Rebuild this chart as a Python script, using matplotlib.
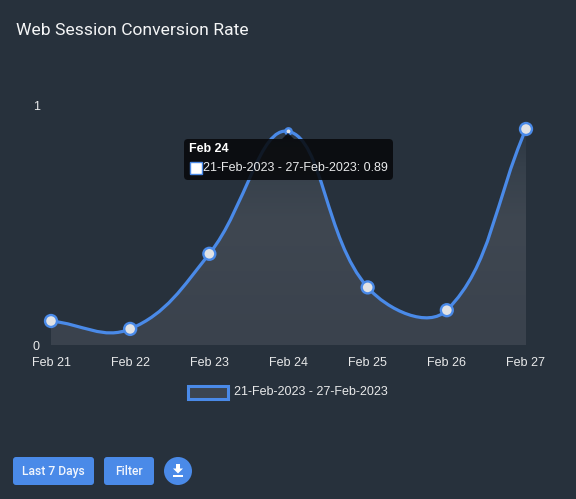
import numpy as np
import matplotlib
matplotlib.use('Agg')
import matplotlib.pyplot as plt
from matplotlib.colors import LinearSegmentedColormap
from matplotlib.path import Path
from matplotlib.patches import PathPatch, FancyBboxPatch, Rectangle, Circle, Polygon

days = ['Feb 21', 'Feb 22', 'Feb 23', 'Feb 24', 'Feb 25', 'Feb 26', 'Feb 27']
rate = [0.10, 0.067, 0.38, 0.89, 0.24, 0.145, 0.90]
series_name = '21-Feb-2023 - 27-Feb-2023'

BG = '#27313c'
BLUE = '#4a8ae8'
W, H = 576, 499

def spline_path(xs, ys, px, py, t=0.4):
    # same cubic as a chart.js line with tension, distances taken in pixels
    n = len(xs)
    verts = [(xs[0], ys[0])]
    codes = [Path.MOVETO]
    c1 = [None] * n
    c2 = [None] * n
    for i in range(n):
        a = max(i - 1, 0)
        b = min(i + 1, n - 1)
        d01 = np.hypot((xs[i] - xs[a]) * px, (ys[i] - ys[a]) * py)
        d12 = np.hypot((xs[b] - xs[i]) * px, (ys[b] - ys[i]) * py)
        s = d01 + d12
        c1[i] = (xs[i] - t * d01 / s * (xs[b] - xs[a]), ys[i] - t * d01 / s * (ys[b] - ys[a]))
        c2[i] = (xs[i] + t * d12 / s * (xs[b] - xs[a]), ys[i] + t * d12 / s * (ys[b] - ys[a]))
    for i in range(n - 1):
        verts += [c2[i], c1[i + 1], (xs[i + 1], ys[i + 1])]
        codes += [Path.CURVE4] * 3
    return verts, codes

plt.rcParams['font.family'] = ['Liberation Sans', 'DejaVu Sans']
fig = plt.figure(figsize=(W / 100, H / 100), dpi=100, facecolor=BG)
ax = fig.add_axes([51 / W, (H - 345) / H, 475 / W, 240 / H])
ax.set_facecolor('none')
for s in ax.spines.values():
    s.set_visible(False)

x = list(range(len(days)))
verts, codes = spline_path(x, rate, 475 / 6, 240)

# area under the line, fades out towards the top
fill_v = verts + [(x[-1], 0), (x[0], 0), (x[0], rate[0])]
fill_c = codes + [Path.LINETO, Path.LINETO, Path.CLOSEPOLY]
area = PathPatch(Path(fill_v, fill_c), fc='none', ec='none', transform=ax.transData)
ax.add_patch(area)
fade = LinearSegmentedColormap.from_list('fade', [(0, '#3a424d'), (0.55, '#3f4751'), (0.8, '#36404b'), (1, '#2a3541')])
grad = ax.imshow(np.linspace(1, 0, 256).reshape(-1, 1), cmap=fade, extent=(0, 6, 0, 0.93), aspect='auto', zorder=1)
grad.set_clip_path(area)
ax.set_xlim(0, 6)
ax.set_ylim(0, 1)

ax.add_patch(PathPatch(Path(verts, codes), fc='none', ec=BLUE, lw=2.3, zorder=2, clip_on=False))

sizes = [8.6, 8.6, 8.6, 4.5, 8.6, 8.6, 8.6]
ax.scatter(x, rate, s=[v ** 2 for v in sizes], c='#e1e2e4', edgecolors=BLUE, linewidths=1.7,
           zorder=3, clip_on=False)

ax.set_xticks(x, days)
ax.set_yticks([0, 1], ['0', '1'])
ax.tick_params(length=0, colors='#e8e9ea', labelsize=9)
ax.tick_params(axis='x', pad=9)
ax.tick_params(axis='y', pad=8)

# figure overlay in pixels, y going down
ov = fig.add_axes([0, 0, 1, 1])
ov.set_xlim(0, W)
ov.set_ylim(H, 0)
ov.axis('off')
ov.patch.set_alpha(0)

ov.text(16, 30, 'Web Session Conversion Rate', family='Roboto', fontsize=12.6, color='#f4f5f6', va='center')

# tooltip
ov.add_patch(Polygon([(282, 139), (294, 139), (288, 133)], fc='#08090b', ec='none', alpha=0.88))
ov.add_patch(FancyBboxPatch((184, 139), 209, 41, boxstyle='round,pad=0,rounding_size=4',
                            fc='#08090b', ec='none', alpha=0.88))
ov.text(189, 149.5, days[3], fontsize=9, fontweight='bold', color='white', va='center')
ov.add_patch(Rectangle((189.5, 162), 12, 12, fc='white', ec=BLUE, lw=1))
ov.text(203, 168, '%s: %.2f' % (series_name, rate[3]), fontsize=9, color='#e8e9ea', va='center')

# legend
ov.add_patch(Rectangle((188, 385.5), 40, 13, fc='#3c4550', ec=BLUE, lw=2.2))
ov.text(234, 392, series_name, fontsize=9, color='#e8e9ea', va='center')

# buttons
for bx, bw, label in [(13, 81, 'Last 7 Days'), (104, 50, 'Filter')]:
    ov.add_patch(FancyBboxPatch((bx, 457), bw, 28, boxstyle='round,pad=0,rounding_size=3', fc=BLUE, ec='none'))
    ov.text(bx + bw / 2, 475, label, family='Roboto', fontweight='medium', fontsize=8.7, color='#f2f6fd',
            ha='center', va='baseline')
ov.add_patch(Circle((178, 471), 14, fc=BLUE, ec='none'))
# download icon
ov.add_patch(Polygon([(176, 464), (180, 464), (180, 468.5), (183, 468.5), (178, 473.5), (173, 468.5), (176, 468.5)],
                     fc='white', ec='none'))
ov.add_patch(Rectangle((173, 475), 10, 2, fc='white', ec='none'))

fig.savefig('out.png', dpi=100, facecolor=BG)
